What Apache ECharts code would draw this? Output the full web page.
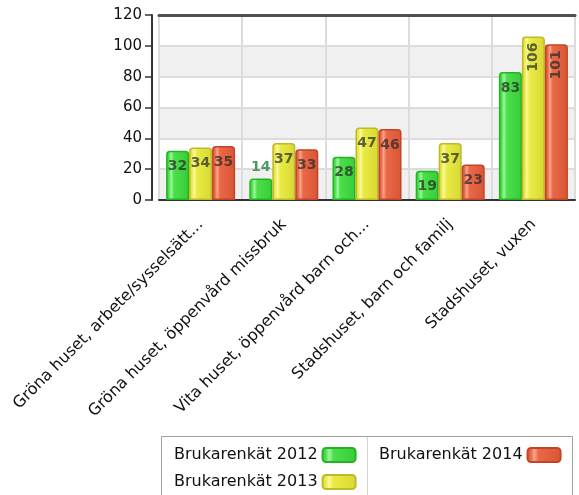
<!DOCTYPE html>
<html>
<head>
<meta charset="utf-8">
<script src="https://cdn.jsdelivr.net/npm/echarts@6/dist/echarts.min.js"></script>
<style>
  html, body { margin: 0; padding: 0; background: #ffffff; }
  #chart { width: 579px; height: 495px; }
</style>
</head>
<body>
<div id="chart"></div>
<script>
// Survey results per unit, three survey years
const categories = [
  'Gröna huset, arbete/sysselsätt...',
  'Gröna huset, öppenvård missbruk',
  'Vita huset, öppenvård barn och...',
  'Stadshuset, barn och familj',
  'Stadshuset, vuxen'
];
const seriesNames = ['Brukarenkät 2012', 'Brukarenkät 2013', 'Brukarenkät 2014'];
const values2012 = [32, 14, 28, 19, 83];
const values2013 = [34, 37, 47, 37, 106];
const values2014 = [35, 33, 46, 23, 101];
const yMin = 0, yMax = 120, yStep = 20;

const FONT = 'DejaVu Sans';

// glossy bar fill: base colour with a light vertical stripe
function glossy(base, light, dark) {
  return new echarts.graphic.LinearGradient(0, 0, 1, 0, [
    { offset: 0, color: dark },
    { offset: 0.12, color: base },
    { offset: 0.22, color: light },
    { offset: 0.34, color: base },
    { offset: 1, color: dark }
  ]);
}

const palette = [
  { fill: glossy('#4be04b', '#a0f5a0', '#38cc38'), border: '#22b422', outside: '#4e9a5e' },
  { fill: glossy('#eaea44', '#f8f8a2', '#d8d834'), border: '#bfb928', outside: '#8a8a30' },
  { fill: glossy('#ea6848', '#f7a68a', '#d85636'), border: '#c44426', outside: '#a05040' }
];

// short bars carry their value above, wide numbers are turned upright
function barData(values, outsideColor) {
  return values.map(function (v) {
    if (v < 16) {
      return { value: v, label: { position: 'top', distance: 4, color: outsideColor } };
    }
    if (v >= 100) {
      return { value: v, label: { rotate: 90, position: 'insideTop', distance: 6, align: 'right', verticalAlign: 'middle' } };
    }
    return v;
  });
}

const allValues = [values2012, values2013, values2014];

const series = allValues.map(function (vals, i) {
  return {
    name: seriesNames[i],
    type: 'bar',
    barWidth: 23,
    barGap: '0%',
    data: barData(vals, palette[i].outside),
    itemStyle: {
      color: palette[i].fill,
      borderColor: palette[i].border,
      borderWidth: 1.5,
      borderRadius: [3, 3, 0, 0]
    },
    label: {
      show: true,
      position: 'insideTop',
      distance: 9,
      fontFamily: FONT,
      fontWeight: 'bold',
      fontSize: 14,
      color: 'rgba(40,40,40,0.72)'
    }
  };
});

const legendText = { fontFamily: FONT, fontSize: 16, color: '#111' };
const legendCommon = {
  orient: 'vertical',
  top: 447,
  padding: 0,
  itemGap: 11,
  align: 'right',
  itemWidth: 33,
  itemHeight: 14,
  icon: 'roundRect',
  textStyle: legendText,
  selectedMode: false
};

const chart = echarts.init(document.getElementById('chart'), null, { renderer: 'canvas' });
chart.setOption({
  animation: false,
  backgroundColor: '#ffffff',
  grid: { left: 159, top: 15, width: 416, height: 185 },
  xAxis: [
    {
      type: 'category',
      data: categories,
      axisLine: { lineStyle: { color: '#333', width: 2 } },
      axisTick: { length: 5, lineStyle: { color: '#333', width: 1.5 } },
      splitLine: { show: true, lineStyle: { color: '#dcdcdc', width: 2 } },
      axisLabel: {
        interval: 0,
        rotate: 45,
        margin: 22,
        fontFamily: FONT,
        fontSize: 16,
        color: '#111'
      }
    },
    {
      type: 'category',
      position: 'top',
      data: categories,
      axisLine: { lineStyle: { color: '#505050', width: 3 } },
      axisTick: { show: false },
      axisLabel: { show: false },
      splitLine: { show: false }
    }
  ],
  yAxis: {
    type: 'value',
    min: yMin,
    max: yMax,
    interval: yStep,
    offset: 7,
    axisLine: { show: true, lineStyle: { color: '#333', width: 2 } },
    axisTick: { show: true, length: 7, lineStyle: { color: '#333', width: 1.5 } },
    axisLabel: { margin: 10, fontFamily: FONT, fontSize: 15, color: '#111' },
    splitLine: { lineStyle: { color: '#dcdcdc', width: 2 } },
    splitArea: { show: true, areaStyle: { color: ['#f0f0f0', '#ffffff'] } }
  },
  legend: [
    Object.assign({ data: [seriesNames[0], seriesNames[1]], left: 174 }, legendCommon),
    Object.assign({ data: [seriesNames[2]], left: 379 }, legendCommon)
  ],
  graphic: [
    {
      type: 'rect',
      z: 0,
      shape: { x: 161.5, y: 436.5, width: 411, height: 80 },
      style: { fill: '#ffffff', stroke: '#a0a0a0', lineWidth: 1 }
    },
    {
      type: 'line',
      z: 1,
      shape: { x1: 367.5, y1: 437, x2: 367.5, y2: 495 },
      style: { stroke: '#d4d4d4', lineWidth: 1 }
    }
  ],
  series: series
});
</script>
</body>
</html>
